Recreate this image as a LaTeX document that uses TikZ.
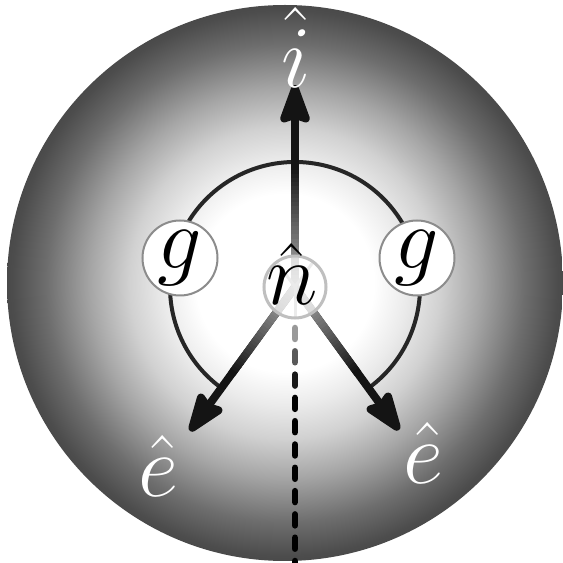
\RequirePackage{fix-cm}
\documentclass[tikz,border=0pt]{standalone}
\usetikzlibrary{arrows.meta,calc}
\pgfdeclareradialshading{sphereshade}{\pgfpoint{0bp}{0bp}}{color(0bp)=(white); color(8bp)=(white); color(11bp)=(black!8); color(14bp)=(black!18); color(17.5bp)=(black!35); color(21.5bp)=(black!57); color(24.5bp)=(black!70); color(25bp)=(black!71); color(50bp)=(black!71)}
\tikzset{
  bigfont/.style={font=\fontsize{88}{90}\selectfont},
  vecarrow/.style={line width=8pt, black!92, -{Stealth[length=47pt,width=33pt,inset=5pt,round]}},
  gnode/.style={circle, draw=black!45, line width=2pt, fill=white, minimum size=75pt, inner sep=0pt, bigfont},
  ncircle/.style={circle, draw=black!25, line width=3pt, fill=white, fill opacity=0.7, minimum size=62pt, inner sep=0pt},
  whitelabel/.style={text=white, anchor=base, bigfont},
  anglearc/.style={line width=4pt, black!85},
  spoke/.style={line width=3pt, black!25},
}
\begin{document}
\begin{tikzpicture}[x=1pt,y=1pt]
\useasboundingbox (0,0) rectangle (563,563);
% sphere
\shade[shading=sphereshade] (285,280) circle[radius=278];
% coordinates
\coordinate (c) at (295,276);
\coordinate (ti) at (295,478);
\coordinate (te1) at (190,132);
\coordinate (te2) at (399,133);
\coordinate (bot) at (295,0);
% angle arc
\draw[anglearc] ($(c)+(-54:125)$) arc[start angle=-54, end angle=234, radius=125];
% arrows
\draw[vecarrow] (c) -- (ti);
\draw[vecarrow] (c) -- (te1);
\draw[vecarrow] (c) -- (te2);
% gradient on shafts
\foreach \k in {0,...,29}{
  \pgfmathsetmacro\ta{\k/30*0.6}
  \pgfmathsetmacro\tb{(\k+1)/30*0.6+0.004}
  \pgfmathsetmacro\cc{30+62*\k/29}
  \draw[line width=8pt, black!\cc] ($(c)!\ta!(ti)$) -- ($(c)!\tb!(ti)$);
  \draw[line width=8pt, black!\cc] ($(c)!\ta!(te1)$) -- ($(c)!\tb!(te1)$);
  \draw[line width=8pt, black!\cc] ($(c)!\ta!(te2)$) -- ($(c)!\tb!(te2)$);
}
% dashed line
\foreach \k in {0,...,10}{
  \pgfmathsetmacro\ya{235-23.3*\k}
  \pgfmathsetmacro\yb{224-23.3*\k}
  \pgfmathsetmacro\cc{min(100,40+25*\k)}
  \draw[line width=6.5pt, line cap=round, black!\cc] ($(c)!{(276-\ya)/276}!(bot)$) -- ($(c)!{(276-\yb)/276}!(bot)$);
}
% spokes inside center circle
\draw[spoke] (c) -- ++(54:30);
\draw[spoke] (c) -- ++(126:30);
\draw[spoke] (c) -- ++(270:30);
% center node
\node[ncircle] (n) at (c) {};
\node[anchor=base, bigfont] (nl) at (292,258) {$\hat{n}$};
% g nodes
\node[gnode] (g1) at (180,305) {$g$};
\node[gnode] (g2) at (417,305) {$g$};
% labels
\node[whitelabel] (li) at (296,475) {$\hat{i}$};
\node[whitelabel] (le1) at (158,66) {$\hat{e}$};
\node[whitelabel] (le2) at (423,79) {$\hat{e}$};
\end{tikzpicture}
\end{document}
